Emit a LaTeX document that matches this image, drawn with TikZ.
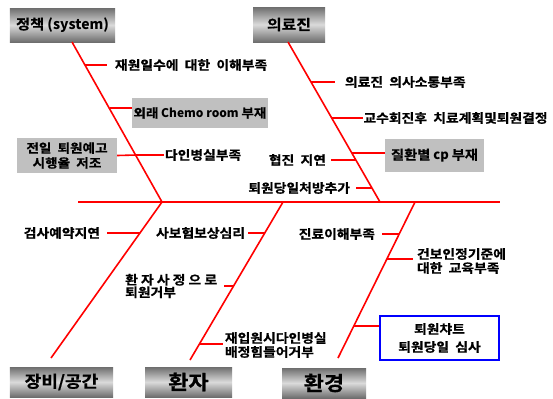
\documentclass[tikz,border=0pt]{standalone}
\usepackage{fontspec}
\setmainfont{Noto Sans CJK KR}[BoldFont={Noto Sans CJK KR Bold},BoldFeatures={FakeBold=0.8},FakeStretch=1.1,WordSpace=2]
\newfontfamily\krtight{Noto Sans CJK KR}[BoldFont={Noto Sans CJK KR Bold},BoldFeatures={FakeBold=0.8},FakeStretch=1.1]
\newfontfamily\krlatin{Noto Sans CJK KR}
\definecolor{hdrdark}{HTML}{6E6E6E}
\definecolor{hdrlight}{HTML}{DADADA}
\definecolor{boxgray}{HTML}{C0C0C0}
\begin{document}
\begin{tikzpicture}[x=1bp,y=-1bp,
  bone/.style={draw=red,line width=1.6bp},
  lbl/.style={font=\bfseries\fontsize{12.6}{13}\selectfont,inner sep=0pt,align=left},
  hdr/.style={top color=hdrdark,bottom color=hdrdark,middle color=hdrlight,inner sep=0pt,font=\bfseries\fontsize{14}{16}\selectfont},
  gbox/.style={fill=boxgray,inner sep=0pt,align=center,font=\bfseries\fontsize{12.4}{15}\selectfont},
  bbox/.style={draw=blue,line width=2.6bp,fill=white,inner sep=0pt,align=center,font=\bfseries\fontsize{12.6}{18}\selectfont},
]
\useasboundingbox[fill=white] (0,0) rectangle (553,398);

% header boxes
\node[hdr,minimum width=105bp,minimum height=34bp] (h1) at (62.5,25) {정책{\krlatin\fontsize{14}{16}\selectfont\ (system)}};
\node[hdr,minimum width=72bp,minimum height=35bp,font=\bfseries\fontsize{14.5}{16}\selectfont] (h2) at (289,24.5) {의료진};
\node[hdr,minimum width=103bp,minimum height=30bp,font=\bfseries\fontsize{16.5}{18}\selectfont] (h3) at (61.5,382) {장비/공간};
\node[hdr,minimum width=87bp,minimum height=30bp,font=\bfseries\fontsize{20}{21}\selectfont] (h4) at (188.5,382) {환자};
\node[hdr,minimum width=84bp,minimum height=30bp,font=\bfseries\fontsize{20}{21}\selectfont] (h5) at (324,383) {환경};

% spine and bones
\coordinate (s0) at (78,202);
\coordinate (s1) at (500,202);
\coordinate (p1) at (72,42);
\coordinate (j1) at (162,202);
\coordinate (p3) at (51,358);
\coordinate (p2) at (288,42);
\coordinate (j2) at (380,202);
\coordinate (j3) at (283,202);
\coordinate (p4) at (190,360);
\coordinate (j4) at (415,202);
\coordinate (p5) at (338,358);
\draw[bone] (s0) -- (s1);
\draw[bone] (p1) -- (j1);
\draw[bone] (j1) -- (p3);
\draw[bone] (p2) -- (j2);
\draw[bone] (j3) -- (p4);
\draw[bone] (j4) -- (p5);

% bone 1 (정책)
\coordinate (c1) at (85,65);
\node[lbl,anchor=west,outer xsep=8bp] (l1) at (107,65) {재원일수에 대한 이해부족};
\draw[bone] (c1) -- (l1.west);
\coordinate (c2) at (110,108);
\node[gbox,minimum width=136bp,minimum height=30bp] (m1) at (200,113) {외래{\krlatin\fontsize{12}{15}\selectfont\ Chemo room\ }부재};
\draw[bone] (c2) -- (c2 -| m1.west);
\coordinate (c3) at (136,155);
\node[lbl,anchor=west,outer xsep=1bp] (l2) at (164,155) {다인병실부족};
\draw[bone] (c3) -- (l2.west);
\node[gbox,minimum width=100bp,minimum height=35bp] (m2) at (67,155.5) {전일 퇴원예고\\시행율 저조};
\draw[bone] (m2.east) -- (c3);

% bone 2 (의료진)
\coordinate (c4) at (311,82);
\node[lbl,anchor=west,outer xsep=10bp] (l3) at (335,82) {의료진 의사소통부족};
\draw[bone] (c4) -- (l3.west);
\coordinate (c5) at (332,118);
\node[lbl,anchor=west,outer xsep=0.5bp] (l4) at (363,118) {교수회진후 치료계획및퇴원결정};
\draw[bone] (c5) -- (l4.west);
\coordinate (c6) at (352,153);
\node[gbox,minimum width=99bp,minimum height=33bp,font=\bfseries\fontsize{13}{15}\selectfont] (m3) at (434.5,155.5) {질환별{\krlatin\fontsize{13}{15}\selectfont\ cp\ }부재};
\draw[bone] (c6) -- (c6 -| m3.west);
\coordinate (c7) at (356,160);
\node[lbl,anchor=east,outer xsep=5bp] (l5) at (331,160) {협진 지연};
\draw[bone] (c7) -- (l5.east);
\coordinate (c8) at (372,188);
\node[lbl,anchor=east,outer xsep=6bp] (l6) at (356,188) {퇴원당일처방추가};
\draw[bone] (c8) -- (l6.east);

% bone 3 (장비/공간)
\coordinate (c9) at (140,233);
\node[lbl,anchor=east,outer xsep=7bp] (l7) at (107,233) {검사예약지연};
\draw[bone] (c9) -- (l7.east);

% bone 4 (환자)
\coordinate (c10) at (265,233);
\node[lbl,anchor=east,outer xsep=3bp] (l8) at (248,233) {사보험보상심리};
\draw[bone] (c10) -- (l8.east);
\coordinate (c11) at (234,286);
\node[lbl,anchor=west,font=\krtight\bfseries\fontsize{12.6}{12.5}\selectfont] (l9) at (125,286) {환 자 사 정 으 로\\퇴원거부};
\draw[bone] (c11) -- ([xshift=7bp]c11 -| l9.east);
\coordinate (c12) at (199,344);
\node[lbl,anchor=west,outer xsep=2bp,font=\bfseries\fontsize{12.6}{14}\selectfont] (l10) at (223,345) {재입원시다인병실\\배정힘들어거부};
\draw[bone] (c12) -- (c12 -| l10.west);

% bone 5 (환경)
\coordinate (c13) at (399,234);
\node[lbl,anchor=east,outer xsep=7bp] (l11) at (382,234) {진료이해부족};
\draw[bone] (c13) -- (l11.east);
\coordinate (c14) at (387,259);
\node[lbl,anchor=west,outer xsep=4bp,font=\bfseries\fontsize{12.6}{14}\selectfont] (l12) at (413,261) {건보인정기준에\\대한 교육부족};
\draw[bone] (c14) -- (c14 -| l12.west);
\coordinate (c15) at (354,326);
\node[bbox,minimum width=119bp,minimum height=44bp] (m4) at (439.5,338) {퇴원챠트\\퇴원당일 심사};
\draw[bone] (c15) -- (c15 -| m4.west);
\end{tikzpicture}
\end{document}
